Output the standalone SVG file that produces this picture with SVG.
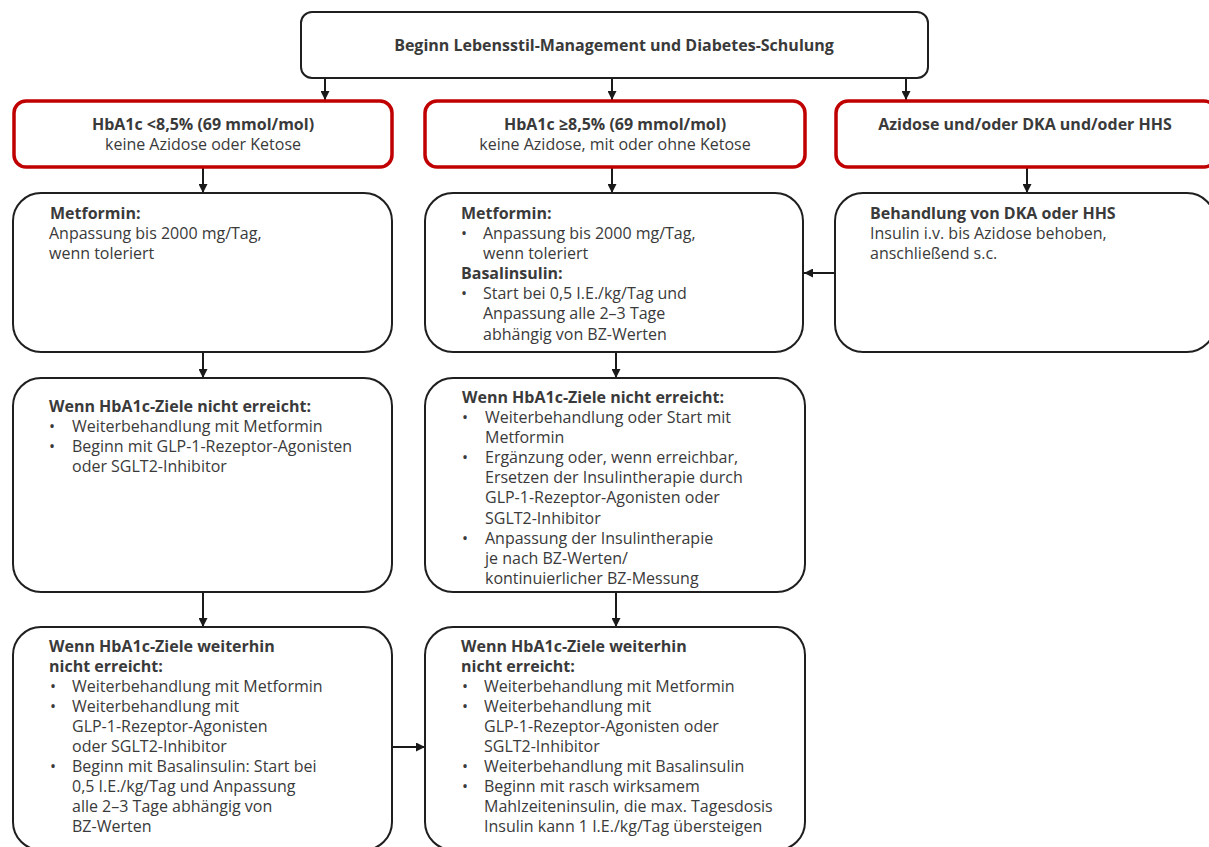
<svg xmlns="http://www.w3.org/2000/svg" width="1209" height="847" viewBox="0 0 1209 847">
<defs>
<marker id="ah" viewBox="0 0 10 10" refX="10" refY="5" markerWidth="9" markerHeight="9" markerUnits="userSpaceOnUse" orient="auto">
<path d="M0,0 L10,5 L0,10 z" fill="#1a1a1a"/>
</marker>
<style>
.box{fill:#fff;stroke:#1f1f1f;stroke-width:2}
.red{fill:#fff;stroke:#c00000;stroke-width:3.5}
.t{font-family:"Open Sans","Noto Sans","DejaVu Sans",sans-serif;font-size:16px;fill:#3a3a3a}
.b{font-weight:bold}
.c{text-anchor:middle}
.con{stroke:#1a1a1a;stroke-width:2;fill:none;marker-end:url(#ah)}
</style>
</defs>
<rect width="1209" height="847" fill="#fff"/>
<g id="connectors">
<line class="con" x1="325" y1="78" x2="325" y2="100"/>
<line class="con" x1="612" y1="78" x2="612" y2="100"/>
<line class="con" x1="906" y1="78" x2="906" y2="100"/>
<line class="con" x1="203" y1="167" x2="203" y2="193"/>
<line class="con" x1="612" y1="167" x2="612" y2="193"/>
<line class="con" x1="1027" y1="167" x2="1027" y2="193"/>
<line class="con" x1="835" y1="273" x2="804" y2="273"/>
<line class="con" x1="203" y1="352" x2="203" y2="378"/>
<line class="con" x1="616" y1="352" x2="616" y2="378"/>
<line class="con" x1="203" y1="592" x2="203" y2="627"/>
<line class="con" x1="616" y1="592" x2="616" y2="627"/>
<line class="con" x1="392" y1="747" x2="425" y2="747"/>
</g>
<g id="start">
<rect class="box" x="301" y="12" width="627" height="66" rx="11"/>
<text class="t b c" x="614" y="51">Beginn Lebensstil-Management und Diabetes-Schulung</text>
</g>
<g id="cond1">
<rect class="red" x="14" y="101" width="378" height="66" rx="12"/>
<text class="t c" x="203"><tspan class="b" x="203" y="130">HbA1c &lt;8,5% (69 mmol/mol)</tspan><tspan x="203" y="150">keine Azidose oder Ketose</tspan></text>
</g>
<g id="cond2">
<rect class="red" x="425" y="101" width="380" height="66" rx="12"/>
<text class="t c"><tspan class="b" x="615" y="130">HbA1c ≥8,5% (69 mmol/mol)</tspan><tspan x="615" y="150">keine Azidose, mit oder ohne Ketose</tspan></text>
</g>
<g id="cond3">
<rect class="red" x="836" y="101" width="380" height="66" rx="12"/>
<text class="t b c" x="1025" y="130">Azidose und/oder DKA und/oder HHS</text>
</g>
<g id="left1">
<rect class="box" x="13" y="193" width="379" height="159" rx="28"/>
<text class="t"><tspan class="b" x="50" y="219">Metformin:</tspan><tspan x="49" y="239">Anpassung bis 2000 mg/Tag,</tspan><tspan x="49" y="259">wenn toleriert</tspan></text>
</g>
<g id="mid1">
<rect class="box" x="425" y="193" width="378" height="159" rx="28"/>
<text class="t"><tspan class="b" x="461" y="219">Metformin:</tspan><tspan x="461" y="239">•</tspan><tspan x="483" y="239">Anpassung bis 2000 mg/Tag,</tspan><tspan x="483" y="259">wenn toleriert</tspan><tspan class="b" x="461" y="279">Basalinsulin:</tspan><tspan x="461" y="299">•</tspan><tspan x="483" y="299">Start bei 0,5 I.E./kg/Tag und</tspan><tspan x="483" y="319">Anpassung alle 2–3 Tage</tspan><tspan x="483" y="340">abhängig von BZ-Werten</tspan></text>
</g>
<g id="right1">
<rect class="box" x="835" y="193" width="380" height="159" rx="28"/>
<text class="t"><tspan class="b" x="870" y="219">Behandlung von DKA oder HHS</tspan><tspan x="870" y="239">Insulin i.v. bis Azidose behoben,</tspan><tspan x="870" y="259">anschließend s.c.</tspan></text>
</g>
<g id="left2">
<rect class="box" x="13" y="378" width="379" height="214" rx="28"/>
<text class="t"><tspan class="b" x="49" y="412">Wenn HbA1c-Ziele nicht erreicht:</tspan><tspan x="49" y="432">•</tspan><tspan x="72" y="432">Weiterbehandlung mit Metformin</tspan><tspan x="49" y="452">•</tspan><tspan x="72" y="452">Beginn mit GLP-1-Rezeptor-Agonisten</tspan><tspan x="72" y="472">oder SGLT2-Inhibitor</tspan></text>
</g>
<g id="mid2">
<rect class="box" x="425" y="378" width="380" height="214" rx="28"/>
<text class="t"><tspan class="b" x="462" y="403">Wenn HbA1c-Ziele nicht erreicht:</tspan><tspan x="462" y="423">•</tspan><tspan x="485" y="423">Weiterbehandlung oder Start mit</tspan><tspan x="485" y="443">Metformin</tspan><tspan x="462" y="463">•</tspan><tspan x="485" y="463">Ergänzung oder, wenn erreichbar,</tspan><tspan x="485" y="483">Ersetzen der Insulintherapie durch</tspan><tspan x="485" y="503">GLP-1-Rezeptor-Agonisten oder</tspan><tspan x="485" y="524">SGLT2-Inhibitor</tspan><tspan x="462" y="544">•</tspan><tspan x="485" y="544">Anpassung der Insulintherapie</tspan><tspan x="485" y="564">je nach BZ-Werten/</tspan><tspan x="485" y="584">kontinuierlicher BZ-Messung</tspan></text>
</g>
<g id="left3">
<rect class="box" x="13" y="627" width="379" height="223" rx="28"/>
<text class="t"><tspan class="b" x="49" y="652">Wenn HbA1c-Ziele weiterhin</tspan><tspan class="b" x="49" y="672">nicht erreicht:</tspan><tspan x="50" y="692">•</tspan><tspan x="72" y="692">Weiterbehandlung mit Metformin</tspan><tspan x="50" y="712">•</tspan><tspan x="72" y="712">Weiterbehandlung mit</tspan><tspan x="72" y="732">GLP-1-Rezeptor-Agonisten</tspan><tspan x="72" y="752">oder SGLT2-Inhibitor</tspan><tspan x="50" y="772">•</tspan><tspan x="72" y="772">Beginn mit Basalinsulin: Start bei</tspan><tspan x="72" y="792">0,5 I.E./kg/Tag und Anpassung</tspan><tspan x="72" y="812">alle 2–3 Tage abhängig von</tspan><tspan x="72" y="832">BZ-Werten</tspan></text>
</g>
<g id="mid3">
<rect class="box" x="425" y="627" width="380" height="223" rx="28"/>
<text class="t"><tspan class="b" x="461" y="652">Wenn HbA1c-Ziele weiterhin</tspan><tspan class="b" x="461" y="672">nicht erreicht:</tspan><tspan x="462" y="692">•</tspan><tspan x="484" y="692">Weiterbehandlung mit Metformin</tspan><tspan x="462" y="712">•</tspan><tspan x="484" y="712">Weiterbehandlung mit</tspan><tspan x="484" y="732">GLP-1-Rezeptor-Agonisten oder</tspan><tspan x="484" y="752">SGLT2-Inhibitor</tspan><tspan x="462" y="772">•</tspan><tspan x="484" y="772">Weiterbehandlung mit Basalinsulin</tspan><tspan x="462" y="792">•</tspan><tspan x="484" y="792">Beginn mit rasch wirksamem</tspan><tspan x="484" y="812">Mahlzeiteninsulin, die max. Tagesdosis</tspan><tspan x="484" y="832">Insulin kann 1 I.E./kg/Tag übersteigen</tspan></text>
</g>
</svg>
